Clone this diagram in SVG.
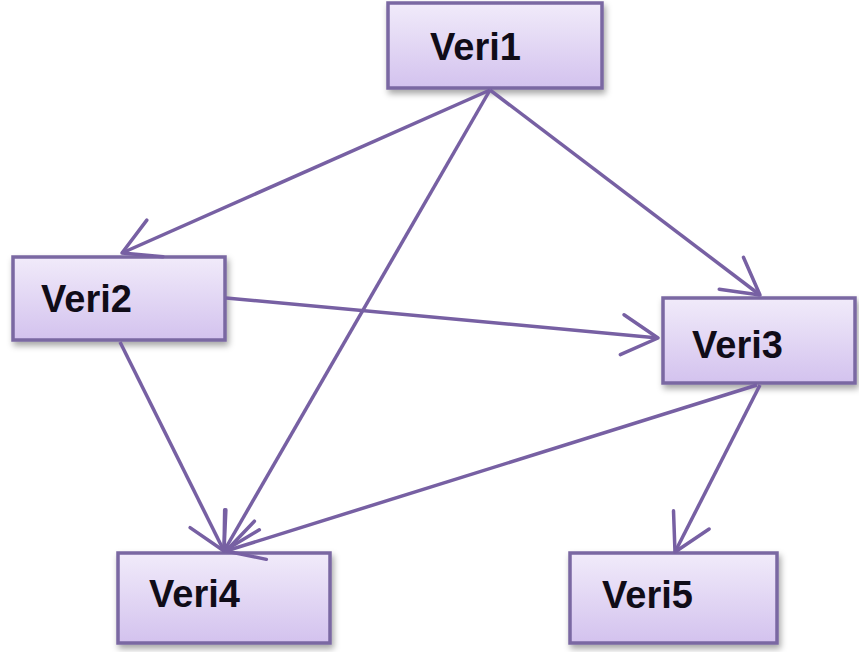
<svg xmlns="http://www.w3.org/2000/svg" width="859" height="652" viewBox="0 0 859 652">
<style>
.box{fill:url(#g);stroke:#7a67a2;stroke-width:3.5;filter:url(#sh)}
.lbl{font-family:"Liberation Sans",Arial,sans-serif;font-weight:bold;font-size:38px;fill:#100c18}
.edge{fill:none;stroke:#7760a3;stroke-width:3.5;marker-end:url(#arr)}
</style>
<defs>
<linearGradient id="g" x1="0" y1="0" x2="0" y2="1">
<stop offset="0" stop-color="#f1ebfa"/>
<stop offset="1" stop-color="#d3c2ee"/>
</linearGradient>
<filter id="sh" x="-10%" y="-10%" width="125%" height="140%">
<feDropShadow dx="2" dy="4" stdDeviation="3" flood-color="#000" flood-opacity="0.35"/>
</filter>
<marker id="arr" markerUnits="userSpaceOnUse" viewBox="-42 -26 46 52" refX="0" refY="0" markerWidth="46" markerHeight="52" orient="auto">
<path d="M-36,-20 L0,0 L-36,20" fill="none" stroke="#7760a3" stroke-width="3.5" stroke-linecap="round" stroke-linejoin="round"/>
</marker>
</defs>
<rect width="859" height="652" fill="#ffffff"/>
<g id="nodes">
<g id="veri1"><rect class="box" x="388" y="3" width="214" height="85"/><text class="lbl" x="430" y="60">Veri1</text></g>
<g id="veri2"><rect class="box" x="13" y="257" width="212" height="83"/><text class="lbl" x="41" y="312">Veri2</text></g>
<g id="veri3"><rect class="box" x="663" y="298" width="192" height="85"/><text class="lbl" x="692" y="358">Veri3</text></g>
<g id="veri4"><rect class="box" x="118" y="553" width="212" height="90"/><text class="lbl" x="149" y="607">Veri4</text></g>
<g id="veri5"><rect class="box" x="570" y="553" width="207" height="90"/><text class="lbl" x="602" y="608">Veri5</text></g>
</g>
<g id="connectors">
<line class="edge" x1="490" y1="90" x2="122" y2="253"/>
<line class="edge" x1="490" y1="90" x2="760" y2="295"/>
<line class="edge" x1="490" y1="90" x2="224" y2="551"/>
<line class="edge" x1="226" y1="298" x2="658" y2="338"/>
<line class="edge" x1="120" y1="342" x2="224" y2="551"/>
<line class="edge" x1="757" y1="385" x2="226" y2="551"/>
<line class="edge" x1="760" y1="385" x2="675" y2="552"/>
</g>
</svg>
